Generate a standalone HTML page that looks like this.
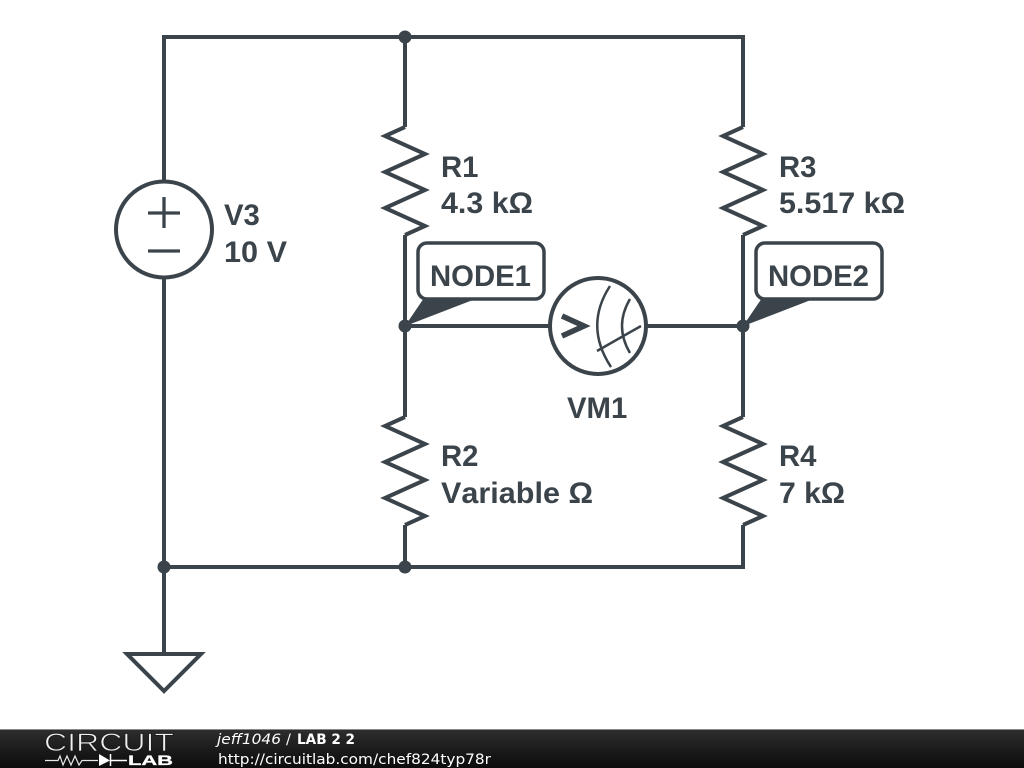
<!DOCTYPE html>
<html>
<head>
<meta charset="utf-8">
<style>
html,body{margin:0;padding:0;background:#fff;width:1024px;height:768px;overflow:hidden}
svg{display:block}
.w{fill:none;stroke:#3b444b;stroke-width:4;stroke-linejoin:miter;stroke-linecap:butt}
.t{font-family:"Liberation Sans",sans-serif;font-weight:bold;font-size:29.3px;fill:#3b444b;font-kerning:none}
.f{font-family:"DejaVu Sans",sans-serif;font-size:14.5px;fill:#fff}
</style>
</head>
<body>
<svg width="1024" height="768" viewBox="0 0 1024 768" xmlns="http://www.w3.org/2000/svg">
<defs>
<linearGradient id="g" x1="0" y1="0" x2="0" y2="1">
<stop offset="0" stop-color="#2e2e2e"/><stop offset="0.5" stop-color="#1c1c1c"/><stop offset="1" stop-color="#0c0c0c"/>
</linearGradient>
</defs>
<rect width="1024" height="768" fill="#fff"/>

<!-- wires -->
<path class="w" d="M164 181V37H743V127"/>
<path class="w" d="M164 278V653"/>
<path class="w" d="M164 567H743V525"/>
<path class="w" d="M405 37V127"/>
<path class="w" d="M405 235V417"/>
<path class="w" d="M405 525V567"/>
<path class="w" d="M743 235V417"/>
<path class="w" d="M405 326H549"/>
<path class="w" d="M647 326H743"/>

<!-- resistors -->
<path class="w" d="M405 127L385 136L425 154L385 172L425 190L385 208L425 226L405 235"/>
<path class="w" d="M743 127L723 136L763 154L723 172L763 190L723 208L763 226L743 235"/>
<path class="w" d="M405 417L385 426L425 444L385 462L425 480L385 498L425 516L405 525"/>
<path class="w" d="M743 417L723 426L763 444L723 462L763 480L723 498L763 516L743 525"/>

<!-- source -->
<circle class="w" cx="164" cy="229.500" r="48"/>
<path class="w" style="stroke-width:3.300" d="M148 213H180M164 197V228M148 251H180"/>

<!-- ground -->
<path class="w" d="M127 654H201L164 691Z"/>

<!-- voltmeter -->
<circle class="w" cx="598" cy="326" r="48"/>
<path class="w" style="stroke-width:5.500" d="M562 316L584 326L562 336"/>
<path class="w" style="stroke-width:2.500" d="M610 286Q584 326 611 367M630 299Q614 326 630 353M597 351L641 326"/>

<!-- node flags -->
<path fill="#3b444b" d="M405 326L424 298H478L408 325Z"/>
<path fill="#3b444b" d="M743 326L762 298H816L746 325Z"/>
<rect x="418" y="243" width="126" height="56" rx="9" fill="#fff" stroke="#3b444b" stroke-width="3.500"/>
<rect x="756" y="243" width="126" height="56" rx="9" fill="#fff" stroke="#3b444b" stroke-width="3.500"/>

<!-- dots -->
<circle cx="405" cy="37" r="6.500" fill="#3b444b"/>
<circle cx="405" cy="326" r="6.500" fill="#3b444b"/>
<circle cx="743" cy="326" r="6.500" fill="#3b444b"/>
<circle cx="405" cy="567" r="6.500" fill="#3b444b"/>
<circle cx="164" cy="567" r="6.500" fill="#3b444b"/>

<!-- labels -->
<text class="t" x="430" y="286">NODE1</text>
<text class="t" x="768" y="286">NODE2</text>
<text class="t" x="441" y="177">R1</text>
<text class="t" x="441" y="213" textLength="92" lengthAdjust="spacingAndGlyphs">4.3 kΩ</text>
<text class="t" x="779" y="177">R3</text>
<text class="t" x="779" y="213" textLength="126" lengthAdjust="spacingAndGlyphs">5.517 kΩ</text>
<text class="t" x="224" y="225">V3</text>
<text class="t" x="224" y="262" textLength="63" lengthAdjust="spacingAndGlyphs">10 V</text>
<text class="t" x="567" y="418">VM1</text>
<text class="t" x="441" y="466">R2</text>
<text class="t" x="441" y="503" textLength="152" lengthAdjust="spacingAndGlyphs">Variable Ω</text>
<text class="t" x="779" y="466">R4</text>
<text class="t" x="779" y="503" textLength="66" lengthAdjust="spacingAndGlyphs">7 kΩ</text>

<!-- footer -->
<rect x="0" y="729" width="1024" height="39" fill="url(#g)"/>
<rect x="0" y="729" width="1024" height="1" fill="#8a8a8a"/>
<text x="44" y="751" font-family="Liberation Sans,sans-serif" font-size="25" textLength="130" lengthAdjust="spacingAndGlyphs" fill="#f0f0f0" stroke="#1c1c1c" stroke-width="0.800">CIRCUIT</text>
<path d="M45 760.500H58L60 756L63 765L67 756L71 765L75 756L79 765L82 760.500H98" fill="none" stroke="#e8e8e8" stroke-width="1.200"/>
<path d="M99 754L110 760.500L99 766Z" fill="#fff"/>
<path d="M110.500 754V766M110 760.500H127" fill="none" stroke="#fff" stroke-width="1.500"/>
<text x="128" y="765" font-family="Liberation Sans,sans-serif" font-weight="bold" font-size="14" textLength="45" lengthAdjust="spacingAndGlyphs" fill="#fff" stroke="#fff" stroke-width="0.300">LAB</text>
<text class="f" x="217" y="744" font-style="italic" textLength="64" lengthAdjust="spacingAndGlyphs">jeff1046</text>
<text class="f" x="286" y="744">/</text>
<text class="f" x="297" y="744" font-weight="bold" textLength="58" lengthAdjust="spacingAndGlyphs">LAB 2 2</text>
<text class="f" x="218" y="764" textLength="273" lengthAdjust="spacingAndGlyphs">http://circuitlab.com/chef824typ78r</text>
</svg>
</body>
</html>
